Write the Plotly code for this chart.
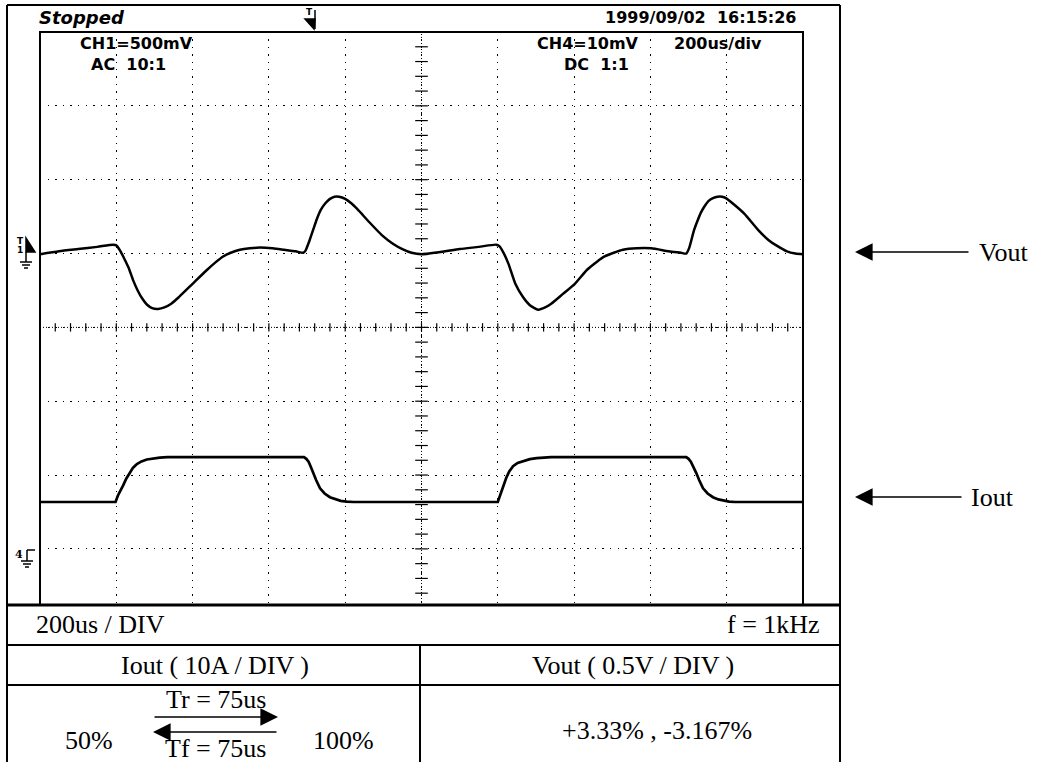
import numpy as np
import plotly.graph_objects as go

W, H = 1042, 762

# ---------------- data ----------------
# time in microseconds (200 us / div, 10 divisions)
vout_t_us = [0, 50, 100, 150, 192, 200, 210, 220, 232, 244,
             256, 268, 280, 294, 310, 326, 344, 364, 384, 400, 436,
             460, 480, 500, 524, 550, 576, 610, 640, 670, 690,
             696, 706, 716, 726, 736, 748, 760, 772, 784, 800,
             816, 832, 864, 896, 926, 950, 974, 1000,
             1050, 1100, 1150, 1196, 1204, 1214, 1228, 1246, 1266, 1284,
             1306, 1324, 1340, 1370, 1402, 1434, 1460, 1480, 1504, 1528,
             1564, 1602, 1648, 1680, 1694, 1702, 1714, 1724, 1732, 1742,
             1752, 1764, 1776, 1788, 1798, 1820, 1846, 1884, 1910, 1930,
             1958, 1980, 2000]
# Vout deviation (AC coupled) in mV, 500 mV / div
vout_mv = [-5, 15, 30, 45, 60, 55, 20, -30, -95, -180,
           -250, -305, -345, -370, -375, -365, -340, -295, -245, -205, -115,
           -60, -20, 5, 25, 35, 40, 35, 25, 15, 5,
           20, 85, 160, 235, 295, 340, 370, 385, 385, 370,
           340, 300, 210, 125, 65, 30, 5, -5,
           10, 30, 45, 60, 50, 10, -70, -205, -295, -350,
           -380, -365, -340, -275, -205, -110, -55, -20, 5, 25,
           35, 35, 15, 5, 0, 40, 155, 225, 275, 320,
           355, 375, 385, 385, 375, 330, 270, 155, 90, 55,
           15, 0, -5]

iout_t_us = [0, 198, 204, 210, 218, 226, 236, 244, 254, 266, 280, 296, 314, 334,
             692, 698, 704, 710, 716, 724, 734, 746, 760, 774, 788, 804, 822,
             1200, 1206, 1214, 1222, 1230, 1240, 1252, 1266, 1284, 1302, 1322, 1340,
             1694, 1700, 1706, 1712, 1720, 1728, 1738, 1750, 1764, 1778, 1792, 1806, 1822, 2000]
# Iout in A, 10 A / div
iout_a = [6.35, 6.35, 7.2, 7.9, 8.6, 9.5, 10.3, 11.0, 11.5, 11.85, 12.1, 12.25, 12.36, 12.43,
          12.43, 12.2, 11.8, 11.1, 10.3, 9.3, 8.2, 7.5, 7.0, 6.7, 6.5, 6.4, 6.35,
          6.35, 7.3, 8.5, 9.6, 10.5, 11.2, 11.65, 11.9, 12.15, 12.3, 12.4, 12.43,
          12.43, 12.2, 11.8, 11.2, 10.3, 9.3, 8.2, 7.5, 7.0, 6.7, 6.5, 6.4, 6.35, 6.35]

header_left = "Stopped"
header_right = "1999/09/02  16:15:26"
ch1_label = ["CH1=500mV", "AC  10:1"]
ch4_label = ["CH4=10mV", "DC  1:1"]
timebase_label = "200us/div"
row1 = ["200us / DIV", "f = 1kHz"]
row2 = ["Iout ( 10A / DIV )", "Vout ( 0.5V / DIV )"]
row3_left = ["50%", "Tr = 75us", "Tf = 75us", "100%"]
row3_right = "+3.33% , -3.167%"
side_labels = ["Vout", "Iout"]

# ---------------- helpers ----------------
def px(x):
    return x / W

def py(y):
    return 1 - y / H

SCOPE = "DejaVu Sans"
SERIF = "Liberation Serif, Times New Roman, serif"

fig = go.Figure()

# graticule ticks on centre lines
fig.add_trace(go.Scatter(x=np.arange(0, 2001, 40), y=np.full(51, -500.0), mode="markers",
                         marker=dict(symbol="line-ns", size=6, line=dict(width=1.2, color="black")),
                         hoverinfo="skip", showlegend=False))
yt = np.arange(-2300, 1501, 100)
fig.add_trace(go.Scatter(x=np.full(len(yt), 1000.0), y=yt, mode="markers",
                         marker=dict(symbol="line-ew", size=9, line=dict(width=1.2, color="black")),
                         hoverinfo="skip", showlegend=False))

fig.add_trace(go.Scatter(x=vout_t_us, y=vout_mv, mode="lines", name="Vout",
                         line=dict(color="black", width=2.5, shape="spline", smoothing=0.6),
                         showlegend=False))
fig.add_trace(go.Scatter(x=iout_t_us, y=iout_a, mode="lines", name="Iout", yaxis="y2",
                         line=dict(color="black", width=2.7, shape="linear"),
                         showlegend=False))

x0, x1, ytop, ybot = 40, 803, 32, 605

fig.update_layout(
    width=W, height=H, margin=dict(l=0, r=0, t=0, b=0),
    paper_bgcolor="white", plot_bgcolor="white", showlegend=False,
    xaxis=dict(domain=[px(x0), px(x1)], range=[0, 2000], dtick=200, tick0=0,
               showgrid=True, gridcolor="black", gridwidth=1.3, griddash="1.3px,6.1px",
               showticklabels=False, zeroline=False, showline=False, ticks=""),
    yaxis=dict(domain=[py(ybot), py(ytop)], range=[-2380, 1500], dtick=500, tick0=0,
               showgrid=True, gridcolor="black", gridwidth=1.3, griddash="1.3px,6.3px",
               showticklabels=False, zeroline=False, showline=False, ticks=""),
    yaxis2=dict(domain=[py(ybot), py(ytop)], range=[-7.6, 70], overlaying="y",
                visible=False, showgrid=False, zeroline=False),
)

shapes = []
# white cover in top-right corner of the screen (no graticule there)
shapes.append(dict(type="rect", xref="paper", yref="paper", x0=px(653), x1=px(802),
                   y0=py(103), y1=py(33), fillcolor="white", line=dict(width=0), layer="between"))
# centre lines (dense dots)
shapes.append(dict(type="line", xref="x", yref="y", x0=0, x1=2000, y0=-500, y1=-500,
                   line=dict(color="black", width=1, dash="1px,2px"), layer="between"))
shapes.append(dict(type="line", xref="x", yref="y", x0=1000, x1=1000, y0=-2380, y1=1500,
                   line=dict(color="black", width=1, dash="1px,2px"), layer="between"))

def pline(xa, ya, xb, yb, w=2):
    shapes.append(dict(type="line", xref="paper", yref="paper", x0=px(xa), y0=py(ya),
                       x1=px(xb), y1=py(yb), line=dict(color="black", width=w)))

# outer frame
pline(7, 5, 840, 5, 2)
pline(7, 5, 7, 762, 2)
pline(840, 5, 840, 762, 2)
# screen box
shapes.append(dict(type="rect", xref="paper", yref="paper", x0=px(x0), x1=px(x1),
                   y0=py(ybot), y1=py(ytop), line=dict(color="black", width=2)))
# table
pline(7, 605, 840, 605, 3)
pline(7, 645, 840, 645, 2)
pline(7, 685, 840, 685, 2)
pline(420, 645, 420, 762, 2)

def ppath(points, fill=True):
    d = "M " + " L ".join(f"{px(a):.5f},{py(b):.5f}" for a, b in points) + (" Z" if fill else "")
    shapes.append(dict(type="path", xref="paper", yref="paper", path=d,
                       fillcolor="black" if fill else None, line=dict(color="black", width=1.5)))

# trigger marker at top
ppath([(305, 19), (315, 19), (314, 29)])
pline(315, 10, 315, 29, 1.5)
# CH1 ground / trigger marker
ppath([(26, 238), (26, 252), (35, 252)])
pline(26, 252, 26, 262, 1.5)
pline(20, 262, 32, 262, 1.5)
pline(22, 265, 30, 265, 1.5)
pline(24, 268, 28, 268, 1.5)
# CH4 ground marker
pline(27, 550, 35, 550, 1.5)
pline(27, 550, 27, 561, 1.5)
pline(21, 561, 33, 561, 1.5)
pline(23, 564, 31, 564, 1.5)
pline(25, 567, 29, 567, 1.5)

fig.update_layout(shapes=shapes)

anns = []

def ann(text, x, y, size, family, xanchor="left", weight="normal", style="normal"):
    anns.append(dict(text=text, x=px(x), y=py(y), xref="paper", yref="paper",
                     xanchor=xanchor, yanchor="middle", showarrow=False,
                     font=dict(family=family, size=size, color="black", weight=weight, style=style)))

ann(header_left, 37, 18, 18, SCOPE, weight="bold", style="italic")
ann(header_right, 798, 18, 16, SCOPE, xanchor="right", weight="bold")
ann(ch1_label[0], 78, 44, 16, SCOPE, weight="bold")
ann(ch1_label[1], 89, 64, 16, SCOPE, weight="bold")
ann(ch4_label[0], 535, 44, 16, SCOPE, weight="bold")
ann(ch4_label[1], 562, 64, 16, SCOPE, weight="bold")
ann(timebase_label, 672, 44, 16, SCOPE, weight="bold")
ann("T", 309, 12, 9, SCOPE, xanchor="center", weight="bold")
ann("T", 20, 241, 9, SCOPE, xanchor="center", weight="bold")
ann("1", 20, 250, 9, SCOPE, xanchor="center", weight="bold")
ann("4", 19, 554, 11, "DejaVu Serif", xanchor="center", weight="bold")

ann(row1[0], 34, 624, 26, SERIF)
ann(row1[1], 822, 624, 26, SERIF, xanchor="right")
ann(row2[0], 215, 665, 26, SERIF, xanchor="center")
ann(row2[1], 633, 665, 26, SERIF, xanchor="center")
ann(row3_left[0], 89, 740, 26, SERIF, xanchor="center")
ann(row3_left[1], 216, 699, 26, SERIF, xanchor="center")
ann(row3_left[2], 215, 748, 26, SERIF, xanchor="center")
ann(row3_left[3], 343, 740, 26, SERIF, xanchor="center")
ann(row3_right, 657, 730, 26, SERIF, xanchor="center")
ann(side_labels[0], 977, 252, 26, SERIF)
ann(side_labels[1], 969, 497, 26, SERIF)

def arrow(xh, yh, ax):
    anns.append(dict(text="", x=px(xh), y=py(yh), xref="paper", yref="paper",
                     ax=ax, ay=0, showarrow=True, arrowhead=2, arrowsize=2.2,
                     arrowwidth=1.6, arrowcolor="black"))

arrow(855, 252, 115)
arrow(855, 497, 108)
arrow(278, 717, -125)
arrow(153, 732, 125)

fig.update_layout(annotations=anns)
fig.write_html("out.html", config={"displayModeBar": False},
               post_script="document.body.style.margin='0';document.body.style.overflow='hidden';")
